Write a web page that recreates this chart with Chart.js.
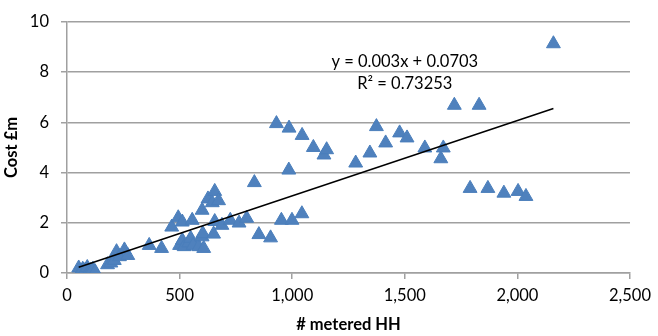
<!DOCTYPE html>
<html><head><meta charset="utf-8">
<script src="https://cdn.jsdelivr.net/npm/chart.js@4/dist/chart.umd.min.js"></script>
<style>html,body{margin:0;padding:0;background:#fff;}#wrap{width:658px;height:336px;}</style>
</head><body><div id="wrap"><canvas id="c" width="658" height="336"></canvas></div>
<script>
const meteredHH = [52,60,70,80,90,95,105,115,125,180,195,210,220,233,255,270,365,420,465,494,500,512,512,520,541,549,556,560,585,600,600,603,607,626,645,651,656,656,673,688,725,764,798,832,852,904,930,952,985,986,999,1043,1044,1094,1141,1153,1282,1345,1374,1415,1477,1510,1589,1660,1671,1720,1790,1830,1869,1940,2003,2038,2160];
const costM = [0.2,0.05,0.15,0.1,0.22,0.05,0.1,0.15,0.05,0.33,0.4,0.5,0.85,0.65,0.92,0.7,1.1,0.98,1.83,2.2,1.1,2.03,1.3,1.05,1.2,1.38,2.1,1.1,1.05,1.44,2.5,1.57,0.98,2.95,2.8,1.55,3.25,2.05,2.88,1.9,2.1,1.99,2.18,3.6,1.53,1.4,5.95,2.1,4.1,5.77,2.1,2.36,5.48,5.0,4.7,4.91,4.38,4.78,5.83,5.18,5.58,5.38,4.98,4.55,4.98,6.68,3.37,6.68,3.37,3.18,3.25,3.05,9.13];
const xTickStep = 500, xMin = 0, xMax = 2500;
const yTickStep = 2, yMin = 0, yMax = 10;
const trendSlope = 0.003, trendIntercept = 0.0703;
const eqLabel = 'y = 0.003x + 0.0703';
const r2Label = 'R\u00B2 = 0.73253';
const xTitle = '# metered HH';
const yTitle = 'Cost \u00A3m';

const points = meteredHH.map((x, i) => ({x: x, y: costM[i]}));
const lo = Math.min(...meteredHH), hi = Math.max(...meteredHH);
const trend = [lo, hi].map(x => ({x: x, y: trendSlope * x + trendIntercept}));

const gridCol = '#a0a0a0';
const FONT = 'Lato';
const FS = 16.5;

const labelPlugin = {
  id: 'eqLabel',
  afterDatasetsDraw(chart) {
    const ctx = chart.ctx, xs = chart.scales.x, ys = chart.scales.y;
    ctx.save();
    ctx.font = FS + 'px ' + FONT;
    ctx.fillStyle = '#000';
    ctx.textAlign = 'center';
    ctx.textBaseline = 'middle';
    ctx.fillText(eqLabel, xs.getPixelForValue(1500), ys.getPixelForValue(8.4));
    ctx.fillText(r2Label, xs.getPixelForValue(1500), ys.getPixelForValue(7.55));
    ctx.restore();
  }
};

new Chart(document.getElementById('c'), {
  type: 'scatter',
  data: {
    datasets: [
      {type: 'line', data: trend, borderColor: '#000', borderWidth: 1.5, pointRadius: 0, fill: false, showLine: true},
      {data: points, pointStyle: 'triangle', pointRadius: 8, pointHoverRadius: 8,
       backgroundColor: '#4F81BD', borderColor: '#4A7EBB', borderWidth: 1}
    ]
  },
  options: {
    responsive: false, animation: false,
    layout: {padding: {top: 19, right: 23, left: 0, bottom: 0}},
    plugins: {legend: {display: false}, tooltip: {enabled: false}},
    scales: {
      x: {
        type: 'linear', min: xMin, max: xMax,
        ticks: {stepSize: xTickStep, color: '#000', font: {family: FONT, size: FS}, padding: 7,
                callback: v => v.toLocaleString('en-US')},
        grid: {drawOnChartArea: false, drawTicks: true, tickLength: 6, color: gridCol, lineWidth: 1.5},
        border: {color: gridCol, width: 1.5},
        title: {display: true, text: xTitle, color: '#000', font: {family: FONT, size: FS, weight: 'bold'}, padding: {top: 2, bottom: 1}},
        afterFit: s => { s.height = 63; }
      },
      y: {
        min: yMin, max: yMax,
        ticks: {stepSize: yTickStep, color: '#000', font: {family: FONT, size: FS}, padding: 12},
        grid: {color: gridCol, lineWidth: 1.5, drawTicks: true, tickLength: 6},
        border: {color: gridCol, width: 1.5},
        title: {display: true, text: yTitle, color: '#000', font: {family: FONT, size: FS, weight: 'bold'}, padding: {top: 2, bottom: 2}},
        afterFit: s => { s.width = 67; }
      }
    }
  },
  plugins: [labelPlugin]
});
</script></body></html>
